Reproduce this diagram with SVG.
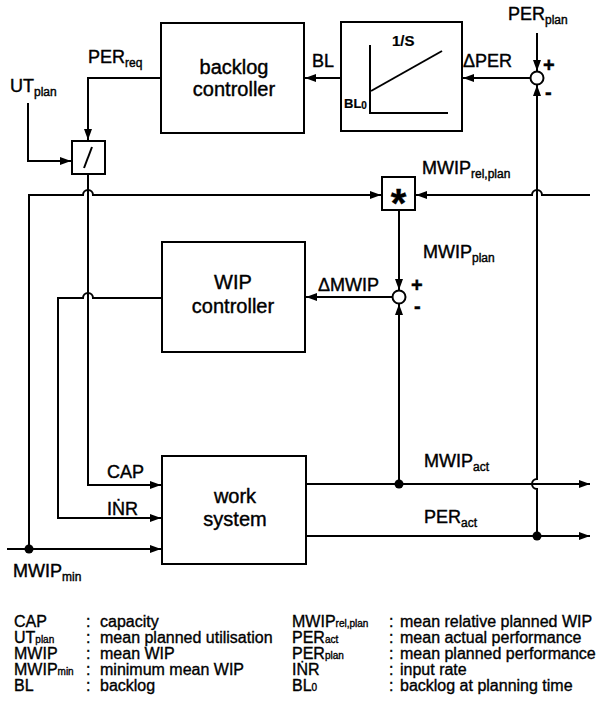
<svg xmlns="http://www.w3.org/2000/svg" width="598" height="714" viewBox="0 0 598 714">
<style>
.t{font-family:"Liberation Sans",Arial,Helvetica,sans-serif;font-size:18px;fill:#000;stroke:#000;stroke-width:0.4}
.bt{font-size:20px;text-anchor:middle}
.lg{font-size:16px;stroke-width:0.35}
.sub{font-size:12px}
.lsub{font-size:10px}
.sg{font-size:20px;font-weight:bold}
.box{fill:#fff;stroke:#000;stroke-width:2}
.ln{fill:none;stroke:#000;stroke-width:2}
.arr{marker-end:url(#ah)}
.dot{fill:#000}
</style>
<defs>
<marker id="ah" markerUnits="userSpaceOnUse" markerWidth="11" markerHeight="8" refX="11" refY="4" orient="auto">
<path d="M0,0 L11,4 L0,8 z" fill="#000"/>
</marker>
</defs>

<g id="connectors">
<path class="ln arr" d="M537,33 V71"/>
<path class="ln arr" d="M530,78 H463"/>
<path class="ln arr" d="M341,78 H305"/>
<path class="ln arr" d="M161,78 H88 V140"/>
<path class="ln arr" d="M28,103 V161 H71"/>
<path class="ln arr" d="M88,174 V485 H161"/>
<path class="ln arr" d="M29,549 V195 H83 a5,5 0 0 1 10,0 H381"/>
<path class="ln arr" d="M590,195 H542 a5,5 0 0 0 -10,0 H416"/>
<path class="ln arr" d="M399,210 V290"/>
<path class="ln arr" d="M392,297 H306"/>
<path class="ln arr" d="M162,298 H93 a5,5 0 0 0 -10,0 H58 V518 H161"/>
<path class="ln arr" d="M7,549 H161"/>
<path class="ln arr" d="M306,484 H590"/>
<path class="ln arr" d="M399,484 V304"/>
<path class="ln arr" d="M306,536 H590"/>
<path class="ln arr" d="M537,536 V489 a5,5 0 0 1 0,-10 V85"/>
<circle class="dot" cx="29" cy="549" r="4.5"/>
<circle class="dot" cx="399" cy="484" r="4.5"/>
<circle class="dot" cx="537" cy="536" r="4.5"/>
</g>

<g id="backlog-controller">
<rect class="box" x="161" y="23" width="143" height="110"/>
<text class="t bt" x="234" y="74">backlog</text>
<text class="t bt" x="234" y="96">controller</text>
</g>

<g id="integrator">
<rect class="box" x="341" y="22" width="121" height="109"/>
<path class="ln" d="M370,45 V113 H448"/>
<path class="ln" d="M371,91 L442,51" stroke-width="3"/>
<text class="t" x="392" y="46" style="font-size:15px;font-weight:bold;stroke-width:0.2">1/S</text>
<text class="t" x="344" y="108" style="font-size:13px;font-weight:bold;stroke-width:0.2">BL<tspan style="font-size:10px" dy="1">0</tspan></text>
</g>

<g id="sum-per">
<circle cx="537" cy="78" r="6.5" fill="#fff" stroke="#000" stroke-width="2"/>
</g>

<g id="divider">
<rect class="box" x="72" y="141" width="33" height="33"/>
<path class="ln" d="M84,168 L92,147" stroke-width="3"/>
</g>

<g id="multiplier">
<rect class="box" x="382" y="177" width="33" height="33"/>
<text class="t" x="398.5" y="217" style="font-size:40px;font-weight:bold;text-anchor:middle">*</text>
</g>

<g id="sum-wip">
<circle cx="399" cy="297" r="6.5" fill="#fff" stroke="#000" stroke-width="2"/>
</g>

<g id="wip-controller">
<rect class="box" x="162" y="242" width="143" height="110"/>
<text class="t bt" x="233" y="289">WIP</text>
<text class="t bt" x="233" y="313">controller</text>
</g>

<g id="work-system">
<rect class="box" x="162" y="456" width="144" height="108"/>
<text class="t bt" x="235" y="503">work</text>
<text class="t bt" x="235" y="526">system</text>
</g>

<g id="labels">
<text class="t" x="508" y="20">PER<tspan class="sub" dy="4">plan</tspan></text>
<text class="t sg" x="543" y="72">+</text>
<text class="t sg" x="545" y="99">-</text>
<text class="t" x="463" y="67">ΔPER</text>
<text class="t" x="312" y="67">BL</text>
<text class="t" x="88" y="63">PER<tspan class="sub" dy="4">req</tspan></text>
<text class="t" x="10" y="92">UT<tspan class="sub" dy="4">plan</tspan></text>
<text class="t" x="422" y="174">MWIP<tspan class="sub" dy="4">rel,plan</tspan></text>
<text class="t" x="423" y="258">MWIP<tspan class="sub" dy="4">plan</tspan></text>
<text class="t" x="318" y="291">ΔMWIP</text>
<text class="t sg" x="411" y="292">+</text>
<text class="t sg" x="414" y="313">-</text>
<text class="t" x="107" y="478">CAP</text>
<text class="t" x="107" y="515">IṄR</text>
<text class="t" x="13" y="577">MWIP<tspan class="sub" dy="4">min</tspan></text>
<text class="t" x="424" y="467">MWIP<tspan class="sub" dy="4">act</tspan></text>
<text class="t" x="424" y="523">PER<tspan class="sub" dy="4">act</tspan></text>
</g>

<g id="legend">
<text class="t lg" x="14" y="627">CAP</text>
<text class="t lg" x="14" y="643">UT<tspan class="lsub">plan</tspan></text>
<text class="t lg" x="14" y="659">MWIP</text>
<text class="t lg" x="14" y="675">MWIP<tspan class="lsub">min</tspan></text>
<text class="t lg" x="14" y="691">BL</text>
<text class="t lg" x="86" y="627">:</text>
<text class="t lg" x="86" y="643">:</text>
<text class="t lg" x="86" y="659">:</text>
<text class="t lg" x="86" y="675">:</text>
<text class="t lg" x="86" y="691">:</text>
<text class="t lg" x="100" y="627">capacity</text>
<text class="t lg" x="100" y="643">mean planned utilisation</text>
<text class="t lg" x="100" y="659">mean WIP</text>
<text class="t lg" x="100" y="675">minimum mean WIP</text>
<text class="t lg" x="100" y="691">backlog</text>
<text class="t lg" x="292" y="627">MWIP<tspan class="lsub">rel,plan</tspan></text>
<text class="t lg" x="292" y="643">PER<tspan class="lsub">act</tspan></text>
<text class="t lg" x="292" y="659">PER<tspan class="lsub">plan</tspan></text>
<text class="t lg" x="292" y="675">IṄR</text>
<text class="t lg" x="292" y="691">BL<tspan class="lsub">0</tspan></text>
<text class="t lg" x="389" y="627">:</text>
<text class="t lg" x="389" y="643">:</text>
<text class="t lg" x="389" y="659">:</text>
<text class="t lg" x="389" y="675">:</text>
<text class="t lg" x="389" y="691">:</text>
<text class="t lg" x="400" y="627">mean relative planned WIP</text>
<text class="t lg" x="400" y="643">mean actual performance</text>
<text class="t lg" x="400" y="659">mean planned performance</text>
<text class="t lg" x="400" y="675">input rate</text>
<text class="t lg" x="400" y="691">backlog at planning time</text>
</g>
</svg>
